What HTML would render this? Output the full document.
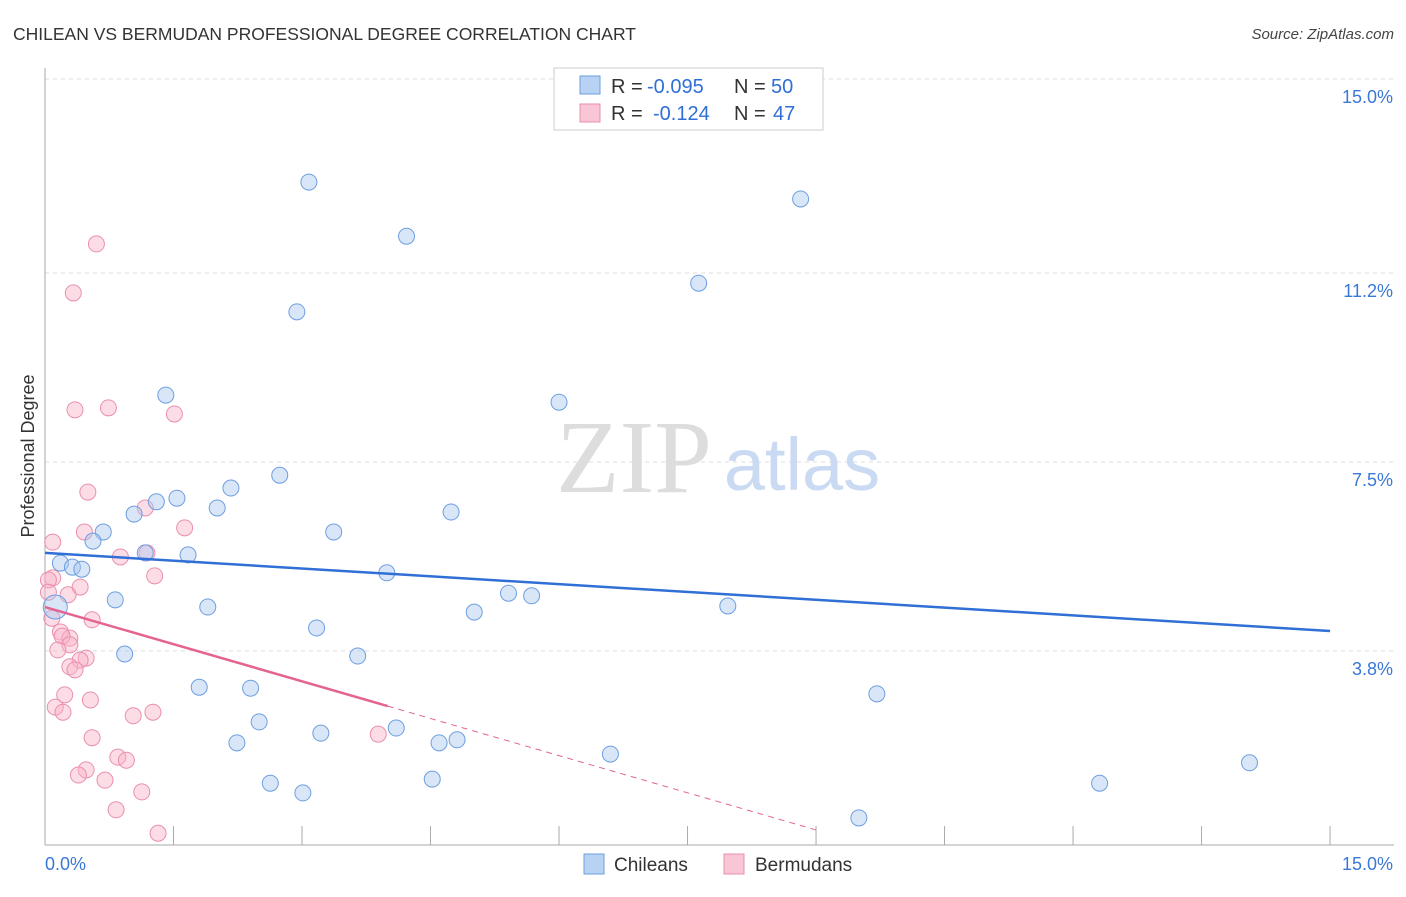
<!DOCTYPE html>
<html><head><meta charset="utf-8"><style>
body{margin:0;background:#fff;font-family:"Liberation Sans",sans-serif}
</style></head><body>
<svg id="c" width="1406" height="892" xmlns="http://www.w3.org/2000/svg"></svg>
<script>
const xTicks=[0,15];
const yTicks=[3.8,7.5,11.2,15.0];
const chileX=[3.08,8.82,4.22,7.63,2.94,1.41,6.00,2.74,2.17,1.54,1.30,2.01,4.74,1.04,0.68,3.37,0.56,1.17,1.67,0.18,0.32,0.43,3.99,5.41,5.68,0.82,1.90,5.01,7.97,0.12,3.17,3.65,0.93,1.80,2.40,9.71,2.50,4.10,3.22,2.24,4.60,4.81,6.60,14.06,4.52,2.63,12.31,3.01,9.50];
const chileY=[12.98,12.65,11.92,11.00,10.44,8.81,8.67,7.24,6.99,6.79,6.72,6.60,6.52,6.48,6.13,6.13,5.95,5.72,5.68,5.52,5.44,5.40,5.33,4.93,4.88,4.80,4.66,4.56,4.68,4.66,4.25,3.70,3.74,3.09,3.07,2.96,2.41,2.29,2.19,2.00,2.00,2.06,1.78,1.61,1.29,1.21,1.21,1.02,0.53];
const bermX=[0.60,0.33,0.35,0.74,1.51,0.50,1.17,1.63,0.46,0.09,0.88,1.19,0.09,1.28,0.04,0.41,0.27,0.04,0.55,0.08,0.18,0.29,0.20,0.29,0.15,0.48,0.41,0.29,0.35,0.23,0.53,0.12,0.21,1.03,1.26,0.55,0.85,0.95,3.89,0.48,0.39,0.70,1.13,0.83,1.32];
const bermY=[11.77,10.81,8.52,8.56,8.44,6.91,6.60,6.21,6.13,5.93,5.64,5.72,5.23,5.27,5.19,5.05,4.90,4.95,4.41,4.44,4.17,4.05,4.09,3.92,3.82,3.66,3.62,3.49,3.43,2.94,2.84,2.70,2.60,2.53,2.60,2.10,1.72,1.66,2.17,1.47,1.37,1.27,1.04,0.69,0.23];
const chileTrend=[5.72,4.19];
const bermTrend=[4.66,-0.485];
const NS="http://www.w3.org/2000/svg",svg=document.getElementById('c');
const X=v=>45+v*85.67,Y=v=>845-v*51.07;
function el(t,a,p){const e=document.createElementNS(NS,t);for(const k in a)e.setAttribute(k,a[k]);(p||svg).appendChild(e);return e;}
function txt(s,a){const e=el('text',a);e.textContent=s;return e;}
let t=txt('CHILEAN VS BERMUDAN PROFESSIONAL DEGREE CORRELATION CHART',{x:13,y:40,'font-size':17.5,fill:'#333'});

t=txt('Source: ZipAtlas.com',{x:1394,y:39,'font-size':15,fill:'#444','text-anchor':'end','font-style':'italic'});

yTicks.forEach(v=>{const g=el('line',{x1:45,x2:1394,y1:Y(v),y2:Y(v),stroke:'#ddd','stroke-dasharray':'4,4'});

const l=txt(v.toFixed(1)+'%',{x:1393,y:Y(v)+24,'font-size':18,fill:'#3a78d6','text-anchor':'end'});
});
let a=el('line',{x1:45,x2:45,y1:68,y2:845,stroke:'#aaa'});
a=el('line',{x1:45,x2:1394,y1:845,y2:845,stroke:'#aaa'});
for(let i=1;i<=10;i++){const k=el('line',{x1:X(i*1.5),x2:X(i*1.5),y1:826,y2:845,stroke:'#aaa'});}
xTicks.forEach((v,i)=>{const l=txt(v.toFixed(1)+'%',{x:i?1393:45,y:870,'font-size':18,fill:'#3a78d6','text-anchor':i?'end':'start'});
});
t=txt('Professional Degree',{x:34,y:456,'font-size':18,fill:'#333','text-anchor':'middle',transform:'rotate(-90 34 456)'});

t=txt('ZIP',{x:634,y:492,'font-size':104,fill:'#ddd','text-anchor':'middle','font-family':'Liberation Serif'});
t=txt('atlas',{x:802,y:490,'font-size':74,fill:'#c9daf2','text-anchor':'middle'});
bermX.forEach((x,i)=>{const c=el('circle',{cx:X(x),cy:Y(bermY[i]),r:8,fill:'rgba(248,180,200,0.45)',stroke:'#ea8fae','stroke-width':1});
});
chileX.forEach((x,i)=>{const c=el('circle',{cx:X(x),cy:Y(chileY[i]),r:i==29?12:8,fill:'rgba(170,200,240,0.45)',stroke:'#6d9fe0','stroke-width':1});
});
let l=el('line',{x1:X(0),y1:Y(chileTrend[0]),x2:X(15),y2:Y(chileTrend[1]),stroke:'#2f6fd6','stroke-width':2.5});

const bt=v=>bermTrend[0]+bermTrend[1]*v;
l=el('line',{x1:X(0),y1:Y(bt(0)),x2:X(4),y2:Y(bt(4)),stroke:'#e4648f','stroke-width':2.5});

l=el('line',{x1:X(4),y1:Y(bt(4)),x2:X(9),y2:Y(bt(9)),stroke:'#e4648f','stroke-width':1,'stroke-dasharray':'6,5'});

const lg=el('g',{});
el('rect',{x:554,y:68,width:269,height:62,fill:'#fff',stroke:'#ccc'},lg);
el('rect',{x:580,y:76,width:20,height:18,fill:'#b8d2f4',stroke:'#6d9fe0'},lg);
el('rect',{x:580,y:104,width:20,height:18,fill:'#f9c6d6',stroke:'#ea8fae'},lg);
[['R =','-0.095','N =','50',93,647],['R =','-0.124','N =','47',120,653]].forEach(r=>{
const a=el('text',{x:611,y:r[4],'font-size':20,fill:'#333'},lg);a.textContent=r[0];
const b=el('text',{x:r[5],y:r[4],'font-size':20,fill:'#2f6fd6'},lg);b.textContent=r[1];
const c=el('text',{x:734,y:r[4],'font-size':20,fill:'#333'},lg);c.textContent=r[2];
const d=el('text',{x:r[5]==647?771:773,y:r[4],'font-size':20,fill:'#2f6fd6'},lg);d.textContent=r[3];});
const bl=el('g',{});
el('rect',{x:584,y:854,width:20,height:20,fill:'#b8d2f4',stroke:'#6d9fe0'},bl);
let q=el('text',{x:614,y:871,'font-size':19,fill:'#333'},bl);q.textContent='Chileans';
el('rect',{x:724,y:854,width:20,height:20,fill:'#f9c6d6',stroke:'#ea8fae'},bl);
q=el('text',{x:755,y:871,'font-size':19,fill:'#333'},bl);q.textContent='Bermudans';
</script>
</body></html>
